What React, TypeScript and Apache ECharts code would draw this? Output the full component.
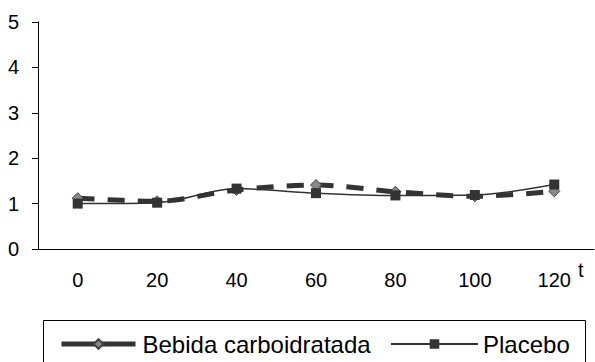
import React, { useEffect, useRef } from "react";
import * as echarts from "echarts";

const categories = ["0", "20", "40", "60", "80", "100", "120"];
const bebida = [1.12, 1.05, 1.3, 1.41, 1.26, 1.16, 1.27];
const placebo = [1.0, 1.02, 1.33, 1.23, 1.18, 1.19, 1.42];
const yTicks = [0, 1, 2, 3, 4, 5];

export default function App() {
  const ref = useRef<HTMLDivElement>(null);
  useEffect(() => {
    if (!ref.current) return;
    const chart = echarts.init(ref.current, null, { renderer: "svg" });
    const font = "Liberation Sans, Arial, sans-serif";
    chart.setOption({
      animation: false,
      backgroundColor: "#fff",
      textStyle: { fontFamily: font },
      grid: { left: 38, right: 1, top: 22, bottom: 113, containLabel: false },
      xAxis: {
        type: "category",
        data: categories,
        boundaryGap: true,
        axisLine: { lineStyle: { color: "#000", width: 1 } },
        axisTick: { show: false },
        axisLabel: { color: "#000", fontSize: 20, margin: 21, fontFamily: font },
        splitLine: { show: false },
      },
      yAxis: {
        type: "value",
        min: yTicks[0],
        max: yTicks[yTicks.length - 1],
        interval: 1,
        axisLine: { show: true, lineStyle: { color: "#000", width: 1 } },
        axisTick: { show: true, length: 6, lineStyle: { color: "#000" } },
        axisLabel: { color: "#000", fontSize: 20, margin: 19, fontFamily: font },
        splitLine: { show: false },
      },
      legend: [
        {
          data: ["Bebida carboidratada"],
          left: 54,
          top: 327,
          itemWidth: 74,
          itemHeight: 12,
          lineStyle: { type: "solid", width: 5 },
          textStyle: { color: "#000", fontSize: 24, fontFamily: font, padding: [0, 0, 0, 2] },
        },
        {
          data: ["Placebo"],
          left: 385,
          top: 327,
          itemWidth: 87,
          itemHeight: 12,
          textStyle: { color: "#000", fontSize: 24, fontFamily: font, padding: [0, 0, 0, 0] },
        },
      ],
      graphic: [
        {
          type: "rect",
          shape: { x: 43.5, y: 320.5, width: 542, height: 60 },
          style: { fill: "none", stroke: "#000", lineWidth: 1 },
          silent: true,
        },
        {
          type: "text",
          x: 578,
          y: 260,
          style: { text: "t", fill: "#000", font: "20px Liberation Sans, Arial, sans-serif" },
        },
      ],
      series: [
        {
          name: "Bebida carboidratada",
          type: "line",
          data: bebida,
          smooth: 0.3,
          symbol: "diamond",
          symbolSize: 11,
          itemStyle: { color: "#888", borderColor: "#444", borderWidth: 1 },
          lineStyle: { color: "#333", width: 5, type: [17, 13] },
          z: 2,
        },
        {
          name: "Placebo",
          type: "line",
          data: placebo,
          smooth: 0.3,
          symbol: "rect",
          symbolSize: 10,
          itemStyle: { color: "#333", borderColor: "#333", borderWidth: 0 },
          lineStyle: { color: "#333", width: 1.5, type: "solid" },
          z: 3,
        },
      ],
    });
    return () => chart.dispose();
  }, []);
  return <div ref={ref} style={{ width: 595, height: 362, position: "absolute", left: 0, top: 0 }} />;
}
